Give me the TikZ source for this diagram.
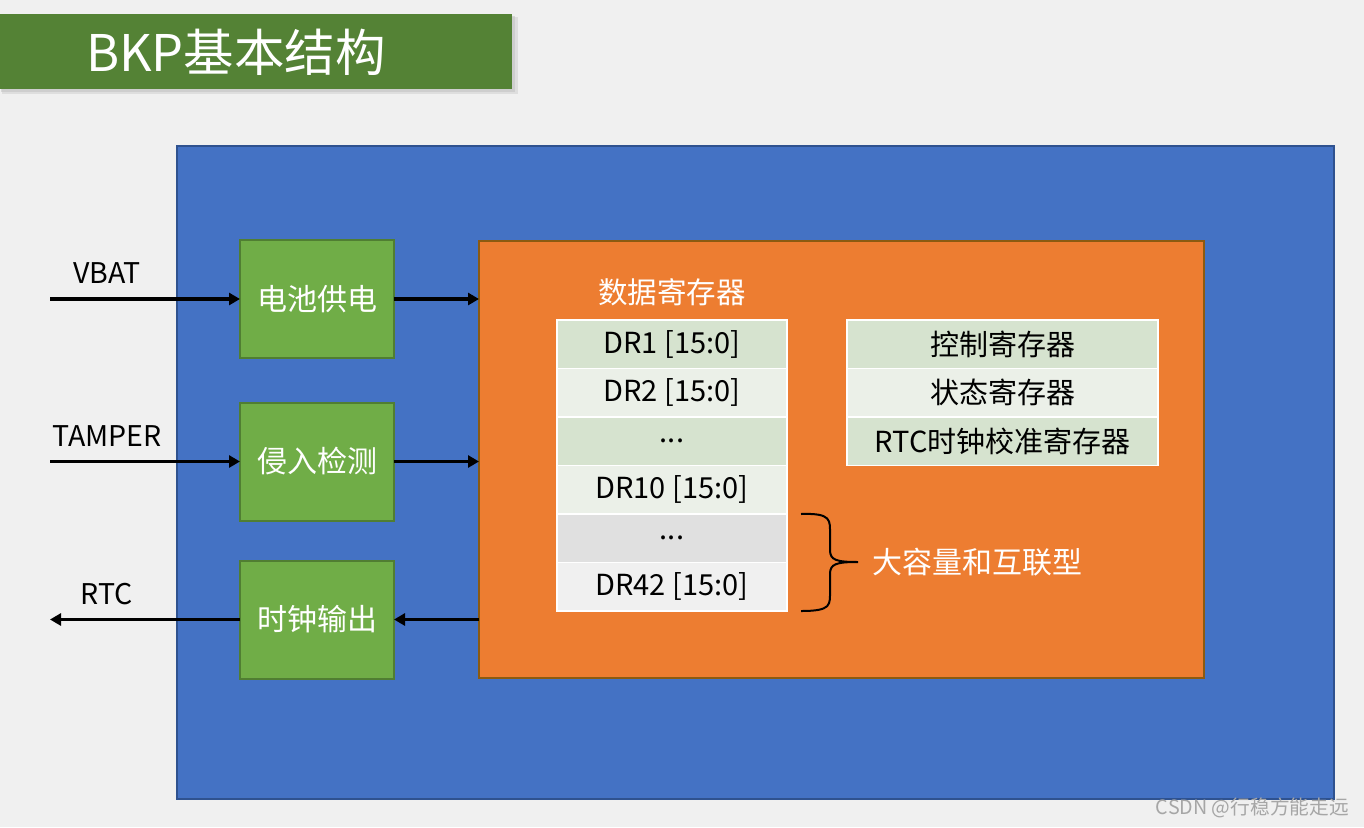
\documentclass[tikz,border=0pt]{standalone}
\usepackage{fontspec}
\setmainfont{Noto Sans CJK SC}
\usetikzlibrary{arrows.meta,calc}
\definecolor{bg}{HTML}{F0F0F0}
\definecolor{titlegreen}{HTML}{548235}
\definecolor{outerblue}{HTML}{4472C4}
\definecolor{outerblueline}{HTML}{2F528F}
\definecolor{boxgreen}{HTML}{70AD47}
\definecolor{boxgreenline}{HTML}{507E32}
\definecolor{orangefill}{HTML}{ED7D31}
\definecolor{orangeline}{HTML}{8C5A10}
\definecolor{rowA}{HTML}{D6E3CF}
\definecolor{rowB}{HTML}{EBF0E8}
\definecolor{rowC}{HTML}{E0E0E0}
\definecolor{rowD}{HTML}{F0F0F0}
\definecolor{wmgray}{HTML}{A6A6A6}
\newcommand{\fsz}[1]{\fontsize{#1}{#1}\selectfont}
\tikzset{
  blockbox/.style={draw=boxgreenline, line width=2pt, fill=boxgreen, minimum width=154pt, minimum height=118pt, inner sep=0pt, outer sep=0pt, text=white, font=\fsz{30}},
  sig/.style={line width=3.6pt, -{Triangle[length=11pt,width=12pt]}},
  siglabel/.style={text=black, font=\fsz{28.5}, inner sep=0pt},
  regrow/.style={draw=white, line width=1.5pt, minimum height=48.5pt, inner sep=0pt, outer sep=0pt, text=black, font=\fsz{29}},
  dreg/.style={regrow, minimum width=230pt},
  creg/.style={regrow, minimum width=311pt},
}
\begin{document}
\begin{tikzpicture}[x=1pt,y=-1pt]
\useasboundingbox (0,0) rectangle (1364,827);
\fill[bg] (0,0) rectangle (1364,827);
% title
\fill[black!25, opacity=0.35] (2,17) rectangle (518,94);
\fill[black!25, opacity=0.5] (1,16) rectangle (515,92);
\node[fill=titlegreen, minimum width=512pt, minimum height=75pt, inner sep=0pt, anchor=north west] (title) at (0,14) {};
\node[text=white, font=\fsz{50.5}, inner sep=0pt] (titletext) at (236,52) {BKP基本结构};
% outer blue
\node[draw=outerblueline, line width=2pt, fill=outerblue, minimum width=1157pt, minimum height=653pt, inner sep=0pt] (outer) at (755.5,472.5) {};
% orange
\node[draw=orangeline, line width=2pt, fill=orangefill, minimum width=725pt, minimum height=437pt, inner sep=0pt, outer sep=0pt] (core) at (841.5,459.5) {};
% green blocks
\node[blockbox] (bat) at (317,299) {电池供电};
\node[blockbox] (tamp) at (317,461.5) {侵入检测};
\node[blockbox] (clk) at (317,619.5) {时钟输出};
% endpoints
\coordinate (vbatin) at (50,299);
\coordinate (tampin) at (50,461.5);
\coordinate (rtcout) at (50,619.5);
\draw[sig] (vbatin) -- (bat.west);
\draw[sig] (tampin) -- (tamp.west);
\draw[sig] (clk.west) -- (rtcout);
\draw[sig] (bat.east) -- (bat.east -| core.west);
\draw[sig] (tamp.east) -- (tamp.east -| core.west);
\draw[sig] (clk.east -| core.west) -- (clk.east);
\node[siglabel] (lvbat) at (107,273) {VBAT};
\node[siglabel] (ltamp) at (107,436) {TAMPER};
\node[siglabel] (lrtc) at (107,594) {RTC};
% data registers
\node[text=white, font=\fsz{29.5}, inner sep=0pt] (datatitle) at (672,292) {数据寄存器};
\node[dreg, fill=rowA] (dr1) at (672,344.25) {DR1 [15:0]};
\node[dreg, fill=rowB, anchor=north] (dr2) at (dr1.south) {DR2 [15:0]};
\node[dreg, fill=rowA, anchor=north] (dr3) at (dr2.south) {...};
\node[dreg, fill=rowB, anchor=north] (dr10) at (dr3.south) {DR10 [15:0]};
\node[dreg, fill=rowC, anchor=north] (dr5) at (dr10.south) {...};
\node[dreg, fill=rowD, anchor=north] (dr42) at (dr5.south) {DR42 [15:0]};
% control registers
\node[creg, fill=rowA] (cr) at (1002.5,344.25) {控制寄存器};
\node[creg, fill=rowB, anchor=north] (sr) at (cr.south) {状态寄存器};
\node[creg, fill=rowA, anchor=north] (rtccal) at (sr.south) {RTC时钟校准寄存器};
% brace
\coordinate (bt) at (801,514);
\coordinate (bb) at (801,611);
\coordinate (btip) at (858,562);
\draw[line width=2pt, black] (bt) .. controls (832,513) and (830,520) .. (830,535)
  -- (830,550) .. controls (830,560) and (836,562) .. (btip)
  (btip) .. controls (836,562) and (830,564) .. (830,574)
  -- (830,590) .. controls (830,605) and (832,611) .. (bb);
\node[text=white, font=\fsz{30}, inner sep=0pt, anchor=west] (large) at (872,562) {大容量和互联型};
% watermark
\node[text=wmgray, font=\fsz{19.7}, inner sep=0pt, anchor=east] (wm) at (1349,808) {CSDN @行稳方能走远};
\end{tikzpicture}
\end{document}
